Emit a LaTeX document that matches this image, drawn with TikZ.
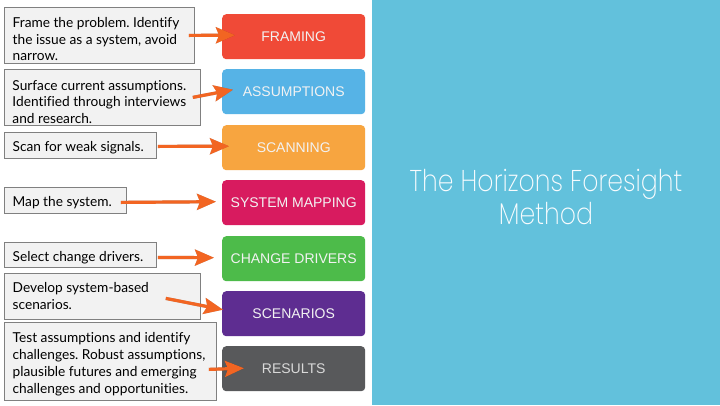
\documentclass[tikz,border=0pt]{standalone}
\usepackage{fontspec}
\setmainfont{Lato}[Ligatures=NoCommon]
\newfontfamily\stagefont{Liberation Sans}
\newfontfamily\titlefont{Poppins ExtraLight}
\usetikzlibrary{arrows.meta,calc}
\frenchspacing
\definecolor{panelblue}{HTML}{62C1DC}
\definecolor{cframing}{HTML}{F04A37}
\definecolor{cassump}{HTML}{56B3E6}
\definecolor{cscan}{HTML}{F7A540}
\definecolor{cmap}{HTML}{D81B5F}
\definecolor{cdriver}{HTML}{4DBB4A}
\definecolor{cscen}{HTML}{5E2D91}
\definecolor{cresult}{HTML}{58595B}
\definecolor{notefill}{HTML}{F2F2F2}
\definecolor{noteline}{HTML}{808080}
\definecolor{arroworange}{HTML}{F26522}
\tikzset{
  stagebox/.style={anchor=north west, rounded corners=4pt, minimum width=143pt, minimum height=45pt, inner sep=0pt, text=white!95!black, font=\stagefont\fontsize{14}{16}\selectfont},
  notebox/.style={anchor=north west, draw=noteline, line width=0.8pt, fill=notefill, inner sep=0pt},
  notetext/.style={anchor=north west, inner sep=0pt, align=left, font=\fontsize{13.7}{16.5}\selectfont\frenchspacing, text=black},
  onetext/.style={anchor=base west, inner sep=0pt, font=\fontsize{13.7}{16.5}\selectfont\frenchspacing, text=black},
  flow/.style={draw=arroworange, line width=3.2pt, -{Stealth[length=19pt,width=16pt,inset=3pt]}},
  flowshadow/.style={draw=black, opacity=0.25, line width=3.2pt, -{Stealth[length=19pt,width=16pt,inset=3pt]}, shift={(1pt,-1.2pt)}},
}
\newcommand{\firstline}{\rule{0pt}{11pt}}
\begin{document}
\begin{tikzpicture}[x=1pt,y=-1pt]
\useasboundingbox (0,0) rectangle (720,405);
\fill[white] (0,0) rectangle (720,405);
% right panel
\node[anchor=north west, fill=panelblue, minimum width=348pt, minimum height=405pt, inner sep=0pt] (panel) at (372,0) {};
\node[align=center, text=white!96!panelblue, xscale=0.84, font=\titlefont\fontsize{30}{33}\selectfont] (title) at (546,197) {The Horizons Foresight\\Method};
% stages
\node[stagebox, fill=cframing] (b1) at (222,14) {FRAMING};
\node[stagebox, fill=cassump] (b2) at (222,69) {ASSUMPTIONS};
\node[stagebox, fill=cscan] (b3) at (222,125) {SCANNING};
\node[stagebox, fill=cmap] (b4) at (222,180) {SYSTEM MAPPING};
\node[stagebox, fill=cdriver] (b5) at (222,236) {CHANGE DRIVERS};
\node[stagebox, fill=cscen] (b6) at (222,291) {SCENARIOS};
\node[stagebox, fill=cresult, text=white!85!black] (b7) at (222,346) {RESULTS};
% note boxes
\node[notebox, minimum width=190pt, minimum height=56pt] (t1) at (4,7) {};
\node[notebox, minimum width=196pt, minimum height=56pt] (t2) at (4,69) {};
\node[notebox, minimum width=152pt, minimum height=26pt] (t3) at (4,132) {};
\node[notebox, minimum width=122pt, minimum height=26pt] (t4) at (4,187) {};
\node[notebox, minimum width=152pt, minimum height=25pt] (t5) at (4,242) {};
\node[notebox, minimum width=196pt, minimum height=46pt] (t6) at (4,273) {};
\node[notebox, minimum width=212pt, minimum height=78pt] (t7) at (4,322) {};
% note texts
\node[notetext] (n1) at (12.5,16.3) {\firstline Frame the problem. Identify\\the issue as a system, avoid\\narrow.};
\node[notetext] (n2) at (12.3,79) {\firstline Surface current assumptions.\\Identified through interviews\\and research.};
\node[onetext] (n3) at (12.5,151.7) {Scan for weak signals.};
\node[onetext] (n4) at (12.5,206.7) {Map the system.};
\node[onetext] (n5) at (12.5,261.7) {Select change drivers.};
\node[notetext] (n6) at (12.5,281.3) {\firstline Develop system-based\\scenarios.};
\node[notetext, font=\fontsize{13.7}{16.9}\selectfont\frenchspacing] (n7) at (12.5,331.7) {\firstline Test assumptions and identify\\challenges. Robust assumptions,\\plausible futures and emerging\\challenges and opportunities.};
% arrows
\foreach \s/\e/\sa/\ea in {t1/b1/{-6,0}/{13,-1.5}, t2/b2/{-8,0}/{11,-2}, t3/b3/{1,1}/{7,-1.5}, t4/b4/{-6,2}/{-6,-1}, t5/b5/{1,2.5}/{-8,-1}, t6/b6/{-35,2}/{1,-4}, t7/b7/{-8,8}/{22,-0.5}}{
  \draw[flowshadow] ($(\s.east)+(\sa)$) -- ($(\e.west)+(\ea)$);
  \draw[flow] ($(\s.east)+(\sa)$) -- ($(\e.west)+(\ea)$);
}
\end{tikzpicture}
\end{document}
